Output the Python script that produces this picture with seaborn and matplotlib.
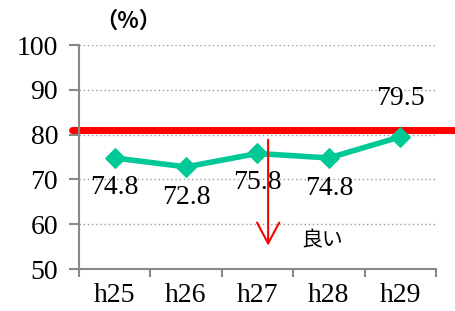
import matplotlib
matplotlib.use("Agg")
import matplotlib.pyplot as plt
import seaborn as sns
import pandas as pd

years = ["h25", "h26", "h27", "h28", "h29"]
values = [74.8, 72.8, 75.8, 74.8, 79.5]
target = 81.0
label_offsets = [-6.5, -6.8, -6.5, -6.8, 8.5]

sns.set_theme(style="white")
plt.rcParams['font.family'] = ['Liberation Serif', 'DejaVu Sans']
plt.rcParams['text.color'] = 'black'
plt.rcParams['xtick.color'] = 'black'
plt.rcParams['ytick.color'] = 'black'

df = pd.DataFrame({"year": years, "value": values})
fig = plt.figure(figsize=(4.56, 3.11), dpi=100)
ax = fig.add_axes([0.173, 0.135, 0.783, 0.72])

x_pos = list(range(len(years)))
df["x"] = x_pos
sns.lineplot(data=df, x="x", y="value", ax=ax, color="#00C896", linewidth=4,
             marker="D", markersize=10, markeredgecolor="#00C896", zorder=3)

ax.set_xlim(-0.5, 4.5)
ax.set_ylim(50, 100)
ax.set_yticks([50, 60, 70, 80, 90, 100])
ax.set_yticklabels(["50", "60", "70", "80", "90", "100"], fontsize=20)
ax.set_xticks([i + 0.5 for i in range(-1, 5)], minor=False)
ax.set_xticklabels([])
ax.set_xticks(x_pos, minor=True)
ax.set_xticklabels(years, minor=True, fontsize=20)
ax.tick_params(axis="x", which="minor", length=0, pad=10, colors="black")
ax.tick_params(axis="x", which="major", length=6, width=1.5, color="#888888", direction="out", bottom=True)
ax.tick_params(axis="y", length=7, width=1.5, color="#888888", labelcolor="black", direction="out", left=True, pad=8)
ax.set_xlabel("")
ax.set_ylabel("")

for y in [60, 70, 80, 90, 100]:
    ax.axhline(y, color="#999999", linestyle=(0, (1, 2)), linewidth=1, zorder=0)

for s in ["top", "right"]:
    ax.spines[s].set_visible(False)
for s in ["left", "bottom"]:
    ax.spines[s].set_color("#888888")
    ax.spines[s].set_linewidth(1.5)

# target line extends across full width
ax.plot([-0.6, 5.0], [target, target], color="#FF0000", linewidth=5, clip_on=False, zorder=1)

for xi, v, o in zip(x_pos, values, label_offsets):
    ax.text(xi, v + o, f"{v}", ha="center", va="center", fontsize=20, color="black")

# arrow "better"
ax.annotate("", xy=(2.15, 54.6), xytext=(2.15, 79.5),
            arrowprops=dict(arrowstyle="->,head_length=0.75,head_width=0.4", color="#FF0000", lw=1.5, mutation_scale=20))
ax.text(2.62, 56.3, "良い", fontsize=15, family=['Noto Sans CJK JP', 'DejaVu Sans'], va="center", ha="left", color="black")

fig.text(0.282, 0.932, "（%）", fontsize=16, fontweight="bold", family=['Noto Sans CJK SC', 'DejaVu Sans'], ha="center", va="center", color="black")

fig.savefig("out.png", dpi=100)
